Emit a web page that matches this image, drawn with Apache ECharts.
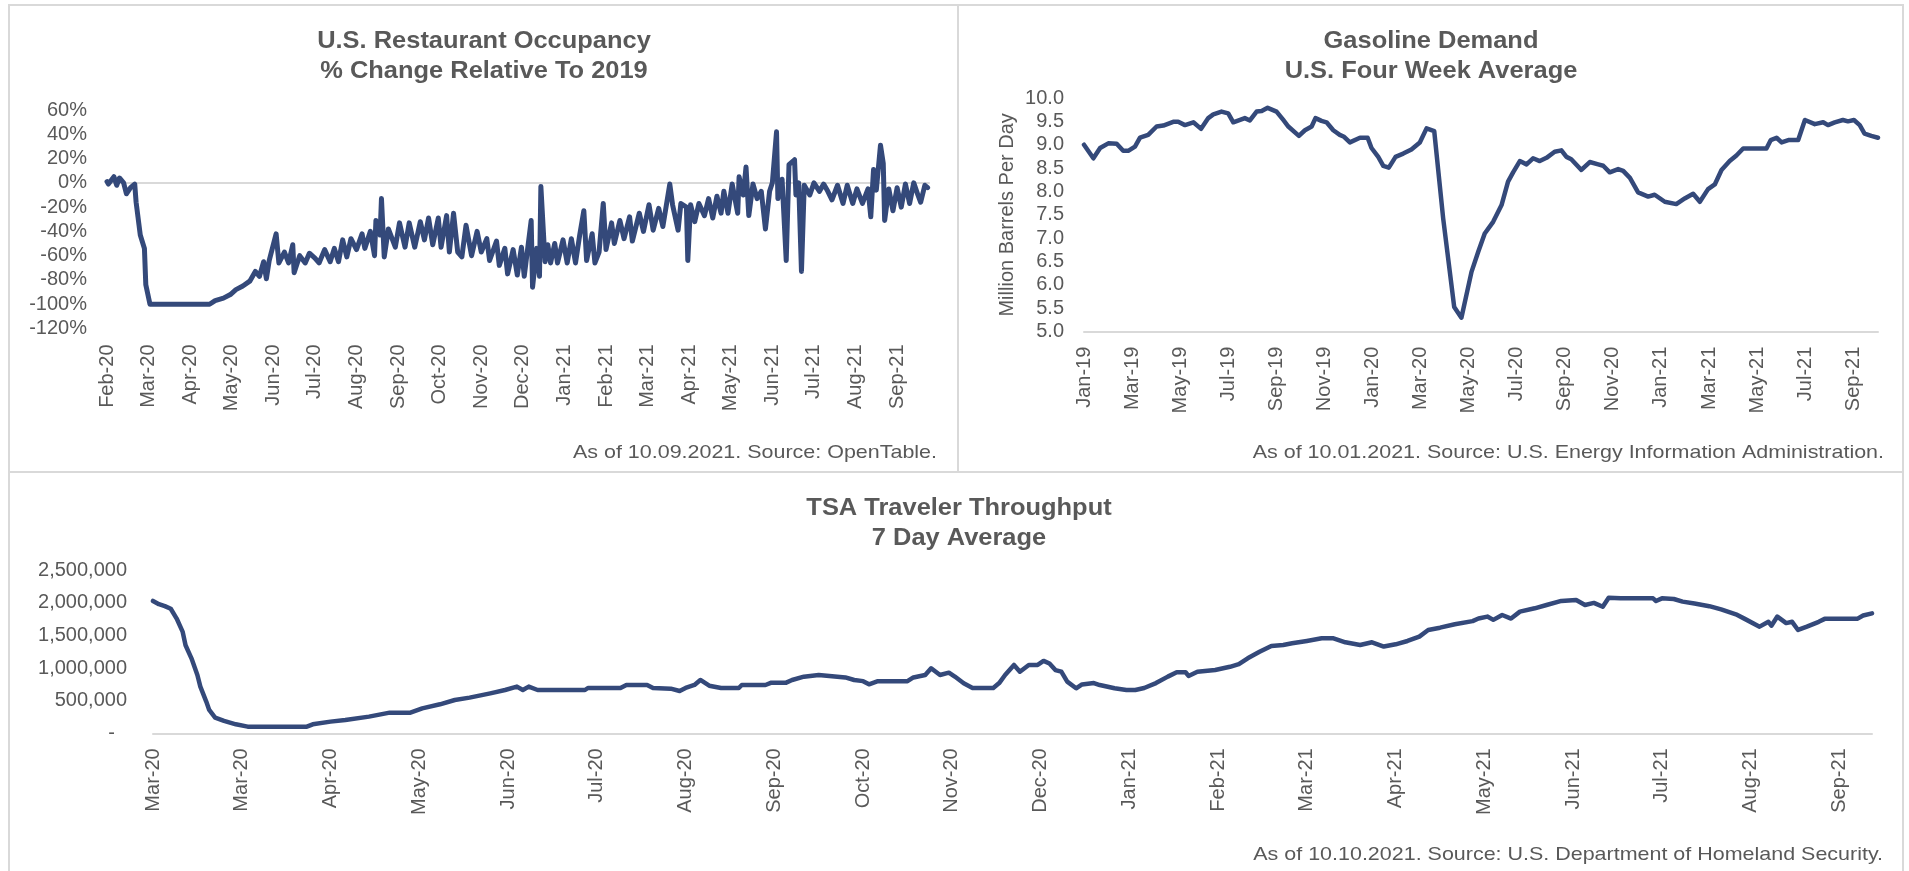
<!DOCTYPE html>
<html>
<head>
<meta charset="utf-8">
<title>Restaurant occupancy, gasoline demand, TSA throughput</title>
<script src="https://cdn.jsdelivr.net/npm/echarts@6/dist/echarts.min.js"></script>
<style>
  html, body { margin: 0; padding: 0; background: #fff; }
  #main { width: 1909px; height: 871px; }
</style>
</head>
<body>
<div id="main"></div>
<script>
// restaurant occupancy: [days since 18 Feb 2020, % change vs 2019]
const occupancyTicks = ['Feb-20', 'Mar-20', 'Apr-20', 'May-20', 'Jun-20', 'Jul-20', 'Aug-20', 'Sep-20', 'Oct-20', 'Nov-20',
  'Dec-20', 'Jan-21', 'Feb-21', 'Mar-21', 'Apr-21', 'May-21', 'Jun-21', 'Jul-21', 'Aug-21', 'Sep-21'];
const occupancy = [
  [0, 1], [1, -1], [5, 5], [7, -2], [9, 4], [12, 0], [14, -9], [17, -4], [20, -1], [21, -16], [24, -43], [27, -54],
  [28, -84], [31, -100], [74, -100], [78, -97], [84, -95], [89, -92], [93, -88], [98, -85], [103, -81], [107, -73],
  [110, -77], [113, -65], [115, -79], [117, -64], [122, -42], [124, -66], [128, -57], [131, -66], [134, -51], [135, -74],
  [139, -60], [143, -66], [146, -58], [150, -62], [153, -66], [157, -55], [161, -65], [164, -54], [167, -65], [170, -47],
  [173, -61], [176, -46], [180, -55], [184, -42], [186, -54], [190, -40], [193, -60], [194, -31], [197, -43], [198, -13],
  [200, -61], [203, -38], [208, -53], [211, -33], [215, -53], [218, -33], [222, -53], [226, -32], [229, -47], [232, -29],
  [235, -51], [239, -29], [241, -53], [245, -27], [247, -57], [250, -25], [253, -57], [256, -61], [259, -35], [263, -60],
  [267, -40], [270, -57], [274, -46], [276, -64], [281, -48], [283, -68], [287, -54], [289, -75], [293, -55], [296, -76],
  [299, -53], [301, -77], [306, -31], [307, -86], [310, -54], [312, -77], [313, -3], [316, -65], [318, -51], [320, -66],
  [323, -50], [325, -66], [329, -47], [332, -66], [335, -46], [338, -66], [341, -43], [344, -23], [346, -64], [350, -42],
  [352, -66], [355, -57], [358, -17], [360, -55], [364, -33], [366, -50], [370, -31], [373, -46], [377, -28], [379, -48],
  [384, -25], [387, -40], [391, -18], [394, -39], [398, -21], [401, -36], [406, -1], [408, -18], [412, -39], [414, -17],
  [418, -20], [419, -64], [421, -18], [424, -32], [427, -17], [431, -27], [434, -13], [437, -29], [440, -11], [443, -25],
  [445, -7], [448, -25], [451, -1], [455, -25], [456, 5], [459, -10], [461, 13], [463, -27], [466, -1], [469, -13],
  [472, -7], [475, -38], [478, -7], [480, 0], [483, 42], [484, -13], [487, 3], [490, -64], [492, 15], [496, 19],
  [497, -10], [499, 0], [501, -73], [503, -2], [507, -10], [510, 0], [514, -7], [517, -1], [520, -7], [523, -14],
  [527, -2], [531, -17], [534, -2], [538, -17], [541, -5], [545, -17], [549, -5], [551, -28], [553, 11], [555, -6],
  [558, 31], [560, 16], [561, -31], [564, -5], [567, -23], [570, -4], [573, -20], [576, -1], [579, -17], [582, 0],
  [585, -10], [587, -16], [590, -2], [592, -4]
];

// gasoline demand: [months since Jan 2019, million barrels per day]
const gasolineTicks = ['Jan-19', 'Mar-19', 'May-19', 'Jul-19', 'Sep-19', 'Nov-19', 'Jan-20', 'Mar-20', 'May-20',
  'Jul-20', 'Sep-20', 'Nov-20', 'Jan-21', 'Mar-21', 'May-21', 'Jul-21', 'Sep-21'];
const gasoline = [
  [0, 9.0], [0.39, 8.71], [0.67, 8.93], [1.01, 9.03], [1.36, 9.02], [1.63, 8.87], [1.84, 8.87], [2.12, 8.96],
  [2.33, 9.15], [2.67, 9.21], [3.02, 9.39], [3.3, 9.41], [3.71, 9.49], [3.92, 9.49], [4.2, 9.42], [4.55, 9.48],
  [4.87, 9.34], [5.17, 9.57], [5.38, 9.65], [5.72, 9.71], [6.0, 9.67], [6.21, 9.48], [6.69, 9.57], [6.9, 9.52],
  [7.18, 9.71], [7.39, 9.72], [7.64, 9.79], [8.01, 9.71], [8.29, 9.53], [8.5, 9.39], [8.94, 9.19], [9.19, 9.31],
  [9.47, 9.39], [9.63, 9.57], [9.88, 9.51], [10.09, 9.48], [10.37, 9.31], [10.64, 9.21], [10.82, 9.17], [11.06, 9.05],
  [11.48, 9.15], [11.8, 9.15], [11.96, 8.93], [12.24, 8.74], [12.45, 8.55], [12.68, 8.51], [12.96, 8.74], [13.28, 8.81],
  [13.62, 8.9], [13.97, 9.05], [14.25, 9.35], [14.57, 9.29], [14.94, 7.43], [15.4, 5.53], [15.7, 5.3], [16.12, 6.28],
  [16.4, 6.71], [16.67, 7.1], [17.02, 7.35], [17.37, 7.71], [17.64, 8.21], [17.85, 8.41], [18.13, 8.65], [18.41, 8.58],
  [18.68, 8.71], [18.96, 8.65], [19.24, 8.72], [19.58, 8.85], [19.86, 8.88], [20.07, 8.74], [20.27, 8.69], [20.69, 8.46],
  [21.04, 8.63], [21.39, 8.58], [21.6, 8.55], [21.87, 8.41], [22.22, 8.48], [22.43, 8.44], [22.71, 8.29], [23.05, 7.98],
  [23.47, 7.89], [23.74, 7.93], [24.16, 7.78], [24.64, 7.73], [24.99, 7.85], [25.34, 7.95], [25.62, 7.78], [25.96, 8.05],
  [26.24, 8.15], [26.52, 8.46], [26.86, 8.65], [27.14, 8.77], [27.42, 8.92], [28.39, 8.92], [28.57, 9.1], [28.81, 9.15],
  [29.02, 9.05], [29.3, 9.1], [29.71, 9.1], [29.99, 9.53], [30.4, 9.44], [30.75, 9.48], [30.95, 9.42], [31.23, 9.48],
  [31.57, 9.53], [31.78, 9.5], [32.03, 9.53], [32.27, 9.42], [32.47, 9.24], [32.75, 9.19], [33.03, 9.15]
];

// TSA throughput, 7 day average: [days since 1 Mar 2020, travelers]
const tsaTicks = ['Mar-20', 'Mar-20', 'Apr-20', 'May-20', 'Jun-20', 'Jul-20', 'Aug-20', 'Sep-20', 'Oct-20', 'Nov-20',
  'Dec-20', 'Jan-21', 'Feb-21', 'Mar-21', 'Apr-21', 'May-21', 'Jun-21', 'Jul-21', 'Aug-21', 'Sep-21'];
const tsa = [
  [0, 2030000], [2, 1980000], [4, 1950000], [6, 1910000], [8, 1760000], [10, 1560000], [11, 1350000], [13, 1150000],
  [15, 895000], [16, 716000], [18, 486000], [19, 358000], [21, 240000], [24, 190000], [28, 138000], [32, 102000],
  [52, 102000], [54, 138000], [60, 179000], [65, 204000], [73, 256000], [80, 317000], [87, 317000], [91, 383000],
  [97, 445000], [102, 511000], [107, 547000], [114, 613000], [119, 664000], [123, 716000], [125, 664000], [127, 716000],
  [130, 664000], [146, 664000], [147, 695000], [158, 695000], [160, 741000], [167, 741000], [169, 695000], [175, 685000],
  [178, 649000], [180, 695000], [183, 741000], [185, 818000], [188, 730000], [192, 695000], [198, 695000], [199, 741000],
  [207, 741000], [209, 777000], [214, 777000], [216, 818000], [220, 869000], [225, 894000], [234, 857000], [237, 818000],
  [240, 800000], [242, 752000], [245, 800000], [255, 800000], [257, 857000], [261, 894000], [263, 997000], [266, 894000],
  [269, 930000], [271, 870000], [274, 767000], [277, 695000], [284, 695000], [286, 770000], [288, 894000], [291, 1048000],
  [293, 945000], [296, 1048000], [299, 1048000], [301, 1110000], [303, 1070000], [305, 970000], [307, 945000], [309, 792000],
  [312, 690000], [314, 750000], [318, 770000], [320, 740000], [325, 690000], [329, 664000], [332, 664000], [335, 695000],
  [339, 770000], [343, 869000], [346, 936000], [349, 936000], [350, 880000], [353, 945000], [359, 971000], [364, 1020000],
  [367, 1060000], [370, 1150000], [374, 1250000], [378, 1340000], [382, 1354000], [385, 1380000], [390, 1416000],
  [395, 1457000], [399, 1457000], [403, 1396000], [408, 1354000], [412, 1396000], [416, 1330000], [420, 1365000],
  [424, 1416000], [428, 1483000], [431, 1585000], [435, 1620000], [440, 1672000], [446, 1720000], [448, 1760000],
  [451, 1790000], [453, 1740000], [456, 1815000], [459, 1760000], [462, 1866000], [467, 1917000], [471, 1968000],
  [476, 2030000], [481, 2045000], [484, 1968000], [487, 2000000], [490, 1940000], [492, 2080000], [496, 2070000],
  [507, 2070000], [508, 2030000], [510, 2070000], [514, 2060000], [517, 2020000], [521, 1990000], [526, 1950000],
  [530, 1900000], [535, 1825000], [538, 1755000], [543, 1636000], [546, 1710000], [547, 1650000], [549, 1790000],
  [552, 1690000], [554, 1710000], [556, 1585000], [559, 1636000], [563, 1710000], [565, 1755000], [576, 1755000],
  [578, 1806000], [581, 1840000]
];

const LINE = '#34497a';
const TEXT = '#595959';
const RULE = '#d9d9d9';
const FONT = '"Liberation Sans", Arial, sans-serif';

const chart = echarts.init(document.getElementById('main'), null, { renderer: 'canvas' });

// bottom axis with rotated labels every `step` units
function dateAxis(gridIndex, max, step, ticks, margin, showLine) {
  return {
    type: 'value', gridIndex: gridIndex, min: 0, max: max, interval: step,
    axisLine: { show: showLine, onZero: false, lineStyle: { color: RULE, width: 2 } },
    axisTick: { show: false },
    splitLine: { show: false },
    axisLabel: {
      rotate: 90, margin: margin, fontSize: 20, color: TEXT, fontFamily: FONT,
      showMaxLabel: false,
      formatter: function (v) {
        const i = Math.round(v / step);
        return Math.abs(v - i * step) < 1e-6 && ticks[i] ? ticks[i] : '';
      }
    }
  };
}

function lineSeries(idx, data, width) {
  return {
    type: 'line', xAxisIndex: idx, yAxisIndex: idx, data: data,
    symbol: 'none', silent: true, z: 3,
    lineStyle: { color: LINE, width: width, join: 'round', cap: 'round' },
    itemStyle: { color: LINE }
  };
}

function headline(x, y, text) {
  return {
    type: 'text', x: x, y: y, scaleX: 1.06, z: 10,
    style: { text: text, font: 'bold 24px ' + FONT, fill: TEXT, textAlign: 'center', textVerticalAlign: 'middle', lineHeight: 30 }
  };
}
function source(x, y, text) {
  return {
    type: 'text', x: x, y: y, scaleX: 1.13, z: 10,
    style: { text: text, font: '19px ' + FONT, fill: TEXT, textAlign: 'right', textVerticalAlign: 'middle' }
  };
}
function frame(x, y, w, h) {
  return { type: 'rect', shape: { x: x, y: y, width: w, height: h }, style: { fill: 'none', stroke: RULE, lineWidth: 2 }, z: 0 };
}

// the occupancy chart's category line sits at 0%, its labels stay at the bottom
const occZeroAxis = {
  type: 'value', gridIndex: 0, position: 'top', min: 0, max: 593,
  axisLine: { show: true, onZero: true, lineStyle: { color: RULE, width: 2 } },
  axisTick: { show: false }, axisLabel: { show: false }, splitLine: { show: false }
};

const option = {
  backgroundColor: '#fff',
  animation: false,
  textStyle: { fontFamily: FONT },
  grid: [
    { left: 107, top: 110, width: 822, height: 218.5, outerBoundsMode: 'none' },
    { left: 1084, top: 98, width: 794, height: 233.7, outerBoundsMode: 'none' },
    { left: 153, top: 570.3, width: 1719, height: 163, outerBoundsMode: 'none' }
  ],
  xAxis: [
    dateAxis(0, 593, 30, occupancyTicks, 16, false),
    dateAxis(1, 33.03, 2, gasolineTicks, 15, true),
    dateAxis(2, 581, 30, tsaTicks, 15, true),
    occZeroAxis
  ],
  yAxis: [
    {
      type: 'value', gridIndex: 0, min: -120, max: 60, interval: 20,
      axisLine: { show: false }, axisTick: { show: false }, splitLine: { show: false },
      axisLabel: { formatter: '{value}%', margin: 20, fontSize: 20, color: TEXT, fontFamily: FONT }
    },
    {
      type: 'value', gridIndex: 1, min: 5, max: 10, interval: 0.5,
      axisLine: { show: false }, axisTick: { show: false }, splitLine: { show: false },
      axisLabel: { formatter: v => v.toFixed(1), margin: 20, fontSize: 20, color: TEXT, fontFamily: FONT },
      name: 'Million Barrels Per Day', nameLocation: 'middle', nameRotate: 90, nameGap: 67,
      nameTextStyle: { fontSize: 20, color: TEXT, fontFamily: FONT }
    },
    {
      type: 'value', gridIndex: 2, min: 0, max: 2500000, interval: 500000,
      axisLine: { show: false }, axisTick: { show: false }, splitLine: { show: false },
      axisLabel: {
        margin: 26, fontSize: 20, color: TEXT, fontFamily: FONT,
        formatter: v => v === 0 ? '{dash|-}' : v.toLocaleString('en-US'),
        rich: { dash: { fontSize: 20, color: TEXT, fontFamily: FONT, padding: [0, 12, 0, 0] } }
      }
    }
  ],
  series: [
    lineSeries(0, occupancy, 5),
    lineSeries(1, gasoline, 4.5),
    lineSeries(2, tsa, 4.5)
  ],
  graphic: [
    frame(9, 5, 949, 467),
    frame(958, 5, 945, 467),
    frame(9, 472, 1894, 402),
    headline(484, 56, 'U.S. Restaurant Occupancy\n% Change Relative To 2019'),
    headline(1431, 56, 'Gasoline Demand\nU.S. Four Week Average'),
    headline(959, 523, 'TSA Traveler Throughput\n7 Day Average'),
    source(937, 453, 'As of 10.09.2021. Source: OpenTable.'),
    source(1884, 453, 'As of 10.01.2021. Source: U.S. Energy Information Administration.'),
    source(1883, 855, 'As of 10.10.2021. Source: U.S. Department of Homeland Security.')
  ]
};

chart.setOption(option);
</script>
</body>
</html>
